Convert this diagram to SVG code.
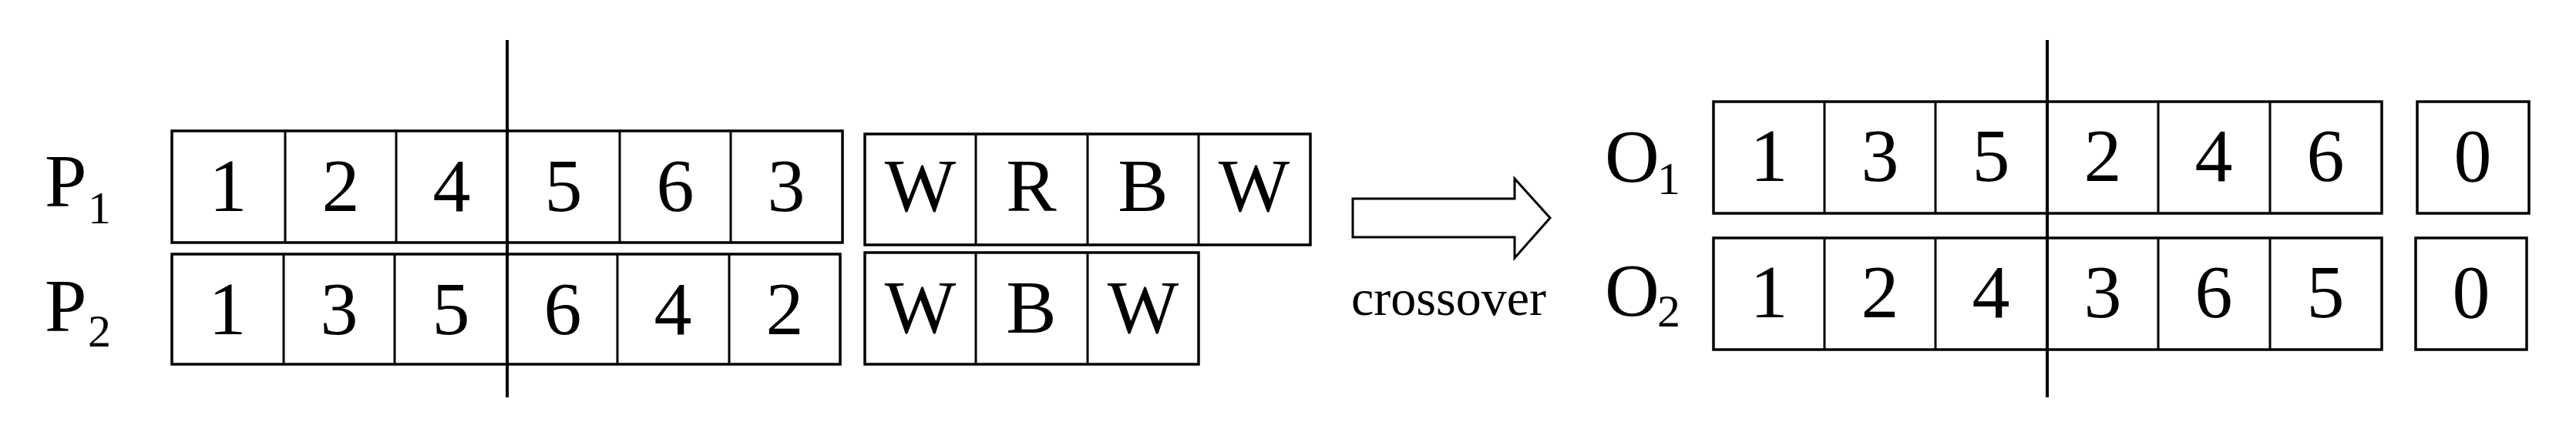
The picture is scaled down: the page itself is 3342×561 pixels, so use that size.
<svg xmlns="http://www.w3.org/2000/svg" width="3342" height="561" viewBox="0 0 3342 561">
<style>
.c{fill:#fff;stroke:#000;stroke-width:3.5}
.t{font-family:"Liberation Serif",serif;font-size:98px;text-anchor:middle;fill:#000}
.l{font-family:"Liberation Serif",serif;font-size:98px;fill:#000}
.s{font-family:"Liberation Serif",serif;font-size:60px;fill:#000}
</style>
<rect width="3342" height="561" fill="#fff"/>
<g id="P1">
<text class="l" x="58" y="268">P</text><text class="s" x="114" y="290">1</text>
<rect class="c" x="223" y="170" width="870" height="145"/>
<path d="M370 170V315M514 170V315M658 170V315M804 170V315M948 170V315" stroke="#000" stroke-width="3"/>
<text class="t" y="274"><tspan x="296">1</tspan><tspan x="442">2</tspan><tspan x="586">4</tspan><tspan x="731">5</tspan><tspan x="876">6</tspan><tspan x="1020">3</tspan></text>
<rect class="c" x="1122" y="174" width="578" height="144"/>
<path d="M1266 174V318M1411 174V318M1555 174V318" stroke="#000" stroke-width="3"/>
<text class="t" y="274"><tspan x="1194">W</tspan><tspan x="1338">R</tspan><tspan x="1483">B</tspan><tspan x="1627">W</tspan></text>
</g>
<g id="P2">
<text class="l" x="58" y="430">P</text><text class="s" x="114" y="450">2</text>
<rect class="c" x="223" y="330" width="867" height="143"/>
<path d="M368 330V473M512 330V473M658 330V473M801 330V473M946 330V473" stroke="#000" stroke-width="3"/>
<text class="t" y="434"><tspan x="295">1</tspan><tspan x="440">3</tspan><tspan x="585">5</tspan><tspan x="730">6</tspan><tspan x="873">4</tspan><tspan x="1018">2</tspan></text>
<rect class="c" x="1122" y="328" width="433" height="145"/>
<path d="M1266 328V473M1411 328V473" stroke="#000" stroke-width="3"/>
<text class="t" y="432"><tspan x="1194">W</tspan><tspan x="1338">B</tspan><tspan x="1483">W</tspan></text>
</g>
<g id="O1">
<text class="l" x="2082" y="236">O</text><text class="s" x="2150" y="252">1</text>
<rect class="c" x="2223" y="132" width="867" height="145"/>
<path d="M2367 132V277M2511 132V277M2656 132V277M2800 132V277M2945 132V277" stroke="#000" stroke-width="3"/>
<text class="t" y="235"><tspan x="2295">1</tspan><tspan x="2439">3</tspan><tspan x="2583">5</tspan><tspan x="2728">2</tspan><tspan x="2872">4</tspan><tspan x="3017">6</tspan></text>
<rect class="c" x="3136" y="132" width="145" height="145"/>
<text class="t" x="3208" y="235">0</text>
</g>
<g id="O2">
<text class="l" x="2082" y="410">O</text><text class="s" x="2150" y="424">2</text>
<rect class="c" x="2223" y="309" width="867" height="145"/>
<path d="M2367 309V454M2511 309V454M2656 309V454M2800 309V454M2945 309V454" stroke="#000" stroke-width="3"/>
<text class="t" y="412"><tspan x="2295">1</tspan><tspan x="2439">2</tspan><tspan x="2583">4</tspan><tspan x="2728">3</tspan><tspan x="2872">6</tspan><tspan x="3017">5</tspan></text>
<rect class="c" x="3134" y="309" width="144" height="145"/>
<text class="t" x="3206" y="412">0</text>
</g>
<g id="connectors">
<path d="M658 52V516M2656 52V516" stroke="#000" stroke-width="4"/>
<path d="M1755 258H1965V232L2011 283L1965 335V308H1755Z" fill="#fff" stroke="#000" stroke-width="3"/>
<text class="l" x="1753" y="409" style="font-size:66px">crossover</text>
</g>
</svg>
